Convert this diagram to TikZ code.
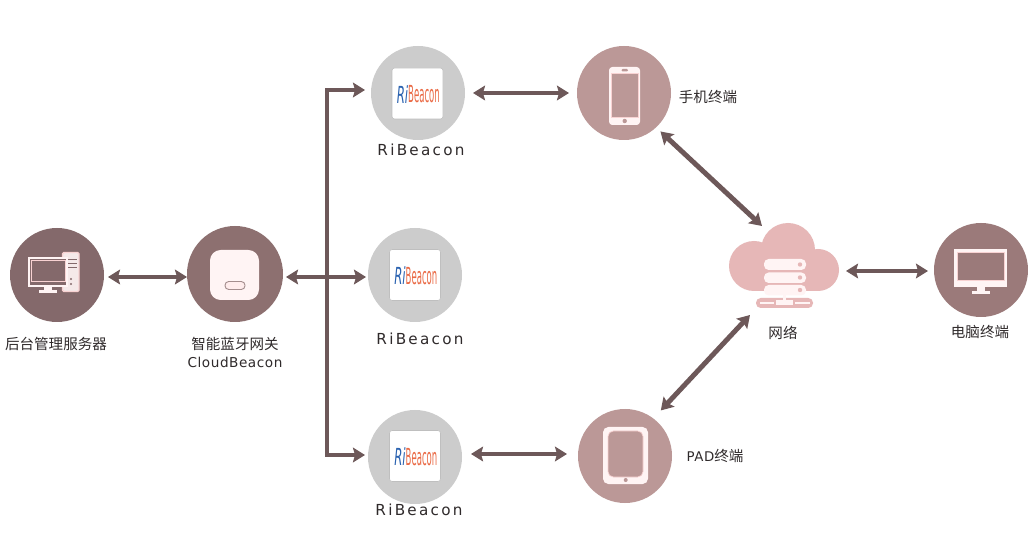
\documentclass[tikz,border=0pt]{standalone}
\usepackage{fontspec}
\usepackage{graphicx}
\setmainfont{DejaVu Sans}
\newfontfamily\cjk{Noto Sans CJK SC}
\newfontfamily\spaced[LetterSpace=15]{DejaVu Sans}
\newfontfamily\spacedb[LetterSpace=4]{DejaVu Sans}
\usetikzlibrary{arrows.meta}
\definecolor{arrowc}{HTML}{6D5859}
\definecolor{textc}{HTML}{2F2A2B}
\definecolor{serverc}{HTML}{84696B}
\definecolor{gatec}{HTML}{8D7070}
\definecolor{rbc}{HTML}{CCCCCC}
\definecolor{termc}{HTML}{BB9897}
\definecolor{cloudc}{HTML}{E6B7B7}
\definecolor{pcc}{HTML}{9B7A7A}
\definecolor{iconw}{HTML}{FFF4F4}
\definecolor{iconl}{HTML}{F8D2D2}
\definecolor{logob}{HTML}{2A62B0}
\definecolor{logor}{HTML}{EA6A45}
\tikzset{
  hub/.style={circle,inner sep=0pt,minimum size=70.5pt,outer sep=0pt},
  lab/.style={text=textc,inner sep=0pt,font=\cjk\fontsize{10.9pt}{12pt}\selectfont},
  rblab/.style={text=textc,inner sep=0pt,font=\spaced\fontsize{11.4pt}{12pt}\selectfont},
  link/.style={draw=arrowc,line width=3.7pt,{Stealth[length=9pt,width=11pt,inset=1.5pt]}-{Stealth[length=9pt,width=11pt,inset=1.5pt]}},
  oneway/.style={draw=arrowc,line width=3.7pt,-{Stealth[length=9pt,width=11pt,inset=1.5pt]}},
  trunk/.style={draw=arrowc,line width=3.7pt,line cap=rect},
  logo/.style={fill=white,draw=black!25,line width=.4pt,rounded corners=2pt},
}
\newcommand{\rblogo}[2]{%
  \path[logo] (#1-25.5,#2-25.5) rectangle (#1+25.5,#2+25.5);
  \node[inner sep=0pt,text=logob] at (#1-15,#2+1) {\scalebox{.8}[1.6]{\fontsize{11pt}{12pt}\selectfont\itshape Ri}};
  \node[inner sep=0pt,text=logor] at (#1+6.5,#2+1) {\scalebox{.58}[1.6]{\fontsize{11pt}{12pt}\selectfont Beacon}};
}
\begin{document}
\begin{tikzpicture}[x=.75pt,y=-.75pt]
\useasboundingbox (0,0) rectangle (1028,534);
\fill[white] (0,0) rectangle (1028,534);

% hubs
\node[hub,fill=serverc] (server) at (57,275) {};
\node[hub,fill=gatec,minimum size=72pt] (gateway) at (235,274) {};
\node[hub,fill=rbc] (rbone) at (418,93) {};
\node[hub,fill=rbc] (rbtwo) at (415,275) {};
\node[hub,fill=rbc] (rbthree) at (415,457) {};
\node[hub,fill=termc] (phone) at (624,93) {};
\node[hub,fill=termc] (pad) at (625,456) {};
\node[hub,fill=pcc] (pc) at (981,270) {};

% cloud
\fill[cloudc] (754,266) circle (25);
\fill[cloudc] (788,250) circle (27);
\fill[cloudc] (818,270) circle (21);
\fill[cloudc] (754,262) rectangle (818,291);
\coordinate (cloudN) at (762,226);
\coordinate (cloudS) at (750,315);
\coordinate (cloudE) at (846,271);
\coordinate (busT) at (327,90);
\coordinate (busB) at (327,455);

% server stack
\fill[iconw,rounded corners=3.5pt] (764,259) rectangle (806,270);
\fill[iconw,rounded corners=3.5pt] (764,272.5) rectangle (806,283);
\fill[iconw,rounded corners=3.5pt] (764,285) rectangle (806,295.5);
\fill[cloudc] (800,264.5) circle (2.2);
\fill[cloudc] (800,277.5) circle (2.2);
\fill[cloudc] (800,290) circle (2.2);
\fill[cloudc,rounded corners=3.5pt] (756,298) rectangle (813,308);
\fill[iconw] (782.5,295) rectangle (785.5,300.5);
\fill[iconw] (776,300) rectangle (793,305.5);
\fill[iconw] (760,302) rectangle (774,304);
\fill[iconw] (795,302) rectangle (810,304);

% connectors
\draw[link,shorten <=3pt,shorten >=0pt] ([yshift=-1.5pt]server.east) -- ([yshift=-2.25pt]gateway.west);
\draw[trunk] (busT) -- (busB);
\draw[link,shorten <=2.25pt,shorten >=1.5pt] ([yshift=-2.25pt]gateway.east) -- ([yshift=-1.5pt]rbtwo.west);
\draw[oneway,shorten >=4.5pt] (busT) -- ([yshift=2.25pt]rbone.west);
\draw[oneway,shorten >=2.25pt] (busB) -- ([yshift=1.5pt]rbthree.west);
\draw[link,shorten <=6pt,shorten >=6pt] (rbone.east) -- (phone.west);
\draw[link,shorten <=6.75pt,shorten >=8.25pt] ([yshift=2.25pt]rbthree.east) -- ([yshift=1.5pt]pad.west);
\draw[link,shorten <=4.5pt] (phone.-47) -- (cloudN);
\draw[link,shorten <=8.25pt] (pad.53) -- (cloudS);
\draw[link,shorten >=4.5pt] (cloudE) -- ([yshift=-.75pt]pc.west);

% server icon
\draw[iconl,fill=iconw!92!serverc,line width=1pt,rounded corners=1pt] (62.5,252.5) rectangle (79,291.5);
\fill[serverc] (66,259) rectangle (76.5,260.5);
\fill[serverc] (66,263) rectangle (76.5,264.5);
\fill[serverc] (66,267) rectangle (76.5,268.5);
\fill[serverc] (71,279) circle (1.2);
\fill[serverc] (71,284) circle (1.2);
\draw[iconw,fill=serverc,line width=1.4pt] (29,258) rectangle (67,286);
\draw[iconl,line width=.6pt] (31,260) rectangle (65,281);
\fill[iconw] (44,286) rectangle (52,290);
\fill[iconw] (39,290.5) rectangle (57,293);

% gateway icon
\fill[iconw,rounded corners=8pt] (210,250) rectangle (259,300);
\draw[gatec!80,line width=.7pt,fill=iconw!85!pink,rounded corners=2.8pt] (225,281.5) rectangle (245,289.5);

% RiBeacon logos
\rblogo{417.5}{93.5}
\rblogo{415}{275}
\rblogo{415}{456}

% phone icon
\fill[iconw,rounded corners=2.5pt] (609,67) rectangle (640,125);
\draw[iconl,fill=termc,line width=.6pt] (611,73) rectangle (638,117);
\fill[termc,rounded corners=.8pt] (621.5,69) rectangle (628,71.5);
\fill[termc] (624.7,121) circle (2.2);

% pad icon
\fill[iconw,rounded corners=4pt] (603,427) rectangle (648,484);
\draw[iconl,fill=termc,line width=.5pt,rounded corners=4pt] (608,431) rectangle (643,477);
\fill[termc] (625.7,480) circle (2);

% pc icon
\fill[iconw] (954,249) rectangle (1007,287);
\fill[pcc] (957,252) rectangle (1004,280);
\draw[iconl,line width=.5pt] (957,252) rectangle (1004,280);
\fill[iconw] (977,287) rectangle (985,291);
\fill[iconw] (972,291) rectangle (990,294);

% labels
\node[lab] (lserver) at (56,344) {后台管理服务器};
\node[lab] (lgate) at (235,344) {智能蓝牙网关};
\node[text=textc,inner sep=0pt,font=\spacedb\fontsize{10.2pt}{12pt}\selectfont] (lcloud) at (235,362) {CloudBeacon};
\node[rblab] (lrbone) at (421,150) {RiBeacon};
\node[rblab] (lrbtwo) at (420,339) {RiBeacon};
\node[rblab] (lrbthree) at (419,510) {RiBeacon};
\node[lab] (lphone) at (708,97) {手机终端};
\node[lab] (lnet) at (783,333) {网络};
\node[lab] (lpc) at (980,332) {电脑终端};
\node[lab] (lpad) at (715,456) {{\spacedb\fontsize{10pt}{12pt}\selectfont PAD}终端};
\end{tikzpicture}
\end{document}
